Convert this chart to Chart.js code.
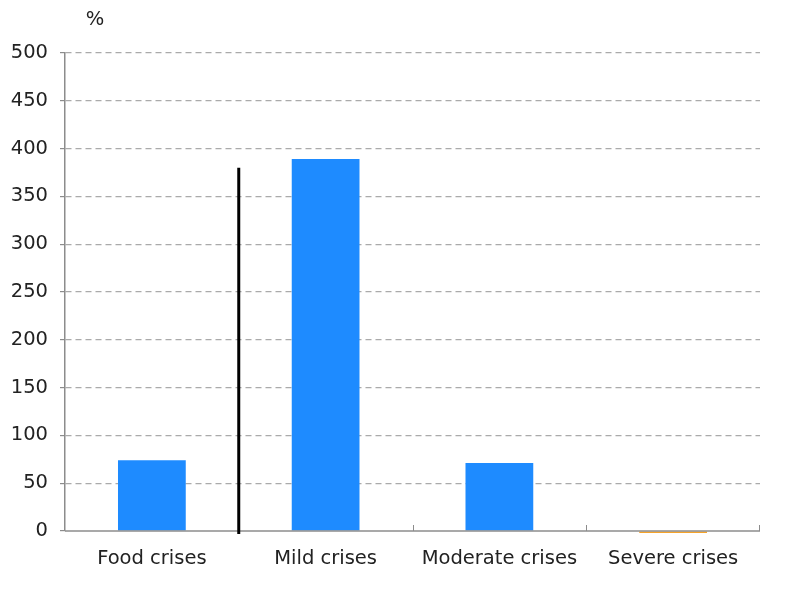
<!DOCTYPE html>
<html>
<head>
<meta charset="utf-8">
<script src="https://cdn.jsdelivr.net/npm/chart.js@4"></script>
<style>
html,body{margin:0;padding:0;background:#fff;}
#wrap{width:801px;height:600px;position:relative;}
</style>
</head>
<body>
<div id="wrap"><canvas id="c" width="801" height="600"></canvas></div>
<script>
const categories = ["Food crises", "Mild crises", "Moderate crises", "Severe crises"];
const values = [74, 389, 71, -2];
const barColors = ["#1e8bff", "#1e8bff", "#1e8bff", "#f5a32a"];
const yTicks = [0, 50, 100, 150, 200, 250, 300, 350, 400, 450, 500];
const dividerTop = 380;
const unitLabel = "%";

const FONT = "'DejaVu Sans', sans-serif";
const FS = 19.5;

const extras = {
  id: 'extras',
  afterDatasetsDraw(chart) {
    const ctx = chart.ctx;
    const x = chart.scales.x, y = chart.scales.y;
    const ca = chart.chartArea;
    const step = x.getPixelForValue(1) - x.getPixelForValue(0);
    const y0 = y.getPixelForValue(0);
    ctx.save();
    // solid baseline
    ctx.strokeStyle = '#8c8c8c';
    ctx.lineWidth = 1.5;
    ctx.beginPath();
    ctx.moveTo(ca.left, y0);
    ctx.lineTo(ca.right, y0);
    ctx.stroke();
    // inward ticks at category boundaries on x axis
    ctx.lineWidth = 1;
    for (let i = 2; i <= categories.length; i++) {
      const px = Math.round(x.getPixelForValue(i - 1) - step / 2) + 0.5;
      ctx.beginPath();
      ctx.moveTo(px, y0);
      ctx.lineTo(px, y0 - 6);
      ctx.stroke();
    }
    {
      const px = Math.round(x.getPixelForValue(categories.length - 1) + step / 2) - 0.5;
      ctx.beginPath();
      ctx.moveTo(px, y0);
      ctx.lineTo(px, y0 - 6);
      ctx.stroke();
    }
    // divider line between food and crises
    const dx = (x.getPixelForValue(0) + x.getPixelForValue(1)) / 2;
    ctx.strokeStyle = '#000';
    ctx.lineWidth = 3;
    ctx.beginPath();
    ctx.moveTo(dx, y.getPixelForValue(dividerTop));
    ctx.lineTo(dx, y0 + 3);
    ctx.stroke();
    // unit label
    ctx.fillStyle = '#222';
    ctx.font = FS + 'px ' + FONT;
    ctx.textAlign = 'center';
    ctx.textBaseline = 'middle';
    ctx.fillText(unitLabel, ca.left + 30, 20);
    ctx.restore();
  }
};

new Chart(document.getElementById('c'), {
  type: 'bar',
  data: {
    labels: categories,
    datasets: [{
      data: values,
      backgroundColor: barColors,
      borderWidth: 0,
      categoryPercentage: 1,
      barPercentage: 0.39,
      clip: false
    }]
  },
  options: {
    responsive: false,
    animation: false,
    layout: { padding: { left: 0, right: 41, top: 53, bottom: 0 } },
    plugins: { legend: { display: false }, tooltip: { enabled: false } },
    scales: {
      x: {
        offset: true,
        afterFit(s) { s.height = 69; },
        grid: { display: false, drawTicks: false },
        border: { display: false },
        ticks: { color: '#222', font: { family: FONT, size: FS }, padding: 16, maxRotation: 0 }
      },
      y: {
        min: 0, max: 500,
        afterFit(s) { s.width = 65; },
        afterBuildTicks(s) { s.ticks = yTicks.map(v => ({ value: v })); },
        grid: {
          color: c => (c.tick && c.tick.value === 0) ? 'rgba(0,0,0,0)' : '#aaaaaa',
          lineWidth: 1.2,
          tickColor: '#8c8c8c',
          tickLength: 5,
          drawTicks: true,
          tickBorderDash: []
        },
        border: { display: true, color: '#8c8c8c', width: 1.5, dash: [6, 4] },
        ticks: { color: '#222', font: { family: FONT, size: FS }, padding: 12 }
      }
    }
  },
  plugins: [extras]
});
</script>
</body>
</html>
